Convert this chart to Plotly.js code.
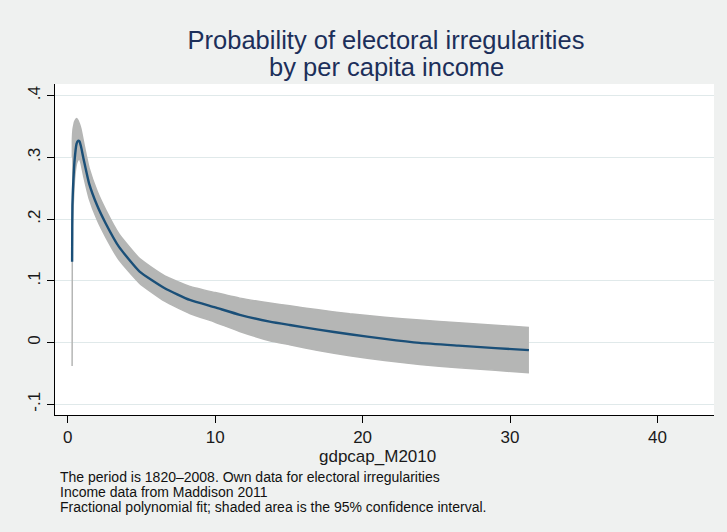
<!DOCTYPE html>
<html>
<head>
<meta charset="utf-8">
<script src="https://cdn.plot.ly/plotly-3.0.1.min.js"></script>
<style>
  html, body { margin: 0; padding: 0; background: #eff1f0; }
  #chart { width: 727px; height: 532px; }
</style>
</head>
<body>
<div id="chart"></div>
<script>
// GDP per capita (thousands, Maddison 2010 dollars)
const gdpcap = [0.30, 0.31, 0.32, 0.36, 0.41, 0.47, 0.60, 0.70, 0.80, 0.90, 1.10, 1.45, 2.00, 2.58, 3.48,
                4.88, 6.58, 8.28, 10.0, 11.67, 13.7, 15.06, 17.0, 19.13, 21.5, 23.88, 26.5, 29.0, 31.28];
// Fractional polynomial fit: predicted probability of irregularities
const fitted = [0.131, 0.180, 0.222, 0.250, 0.274, 0.296, 0.322, 0.327, 0.326, 0.318, 0.295, 0.258, 0.222, 0.193, 0.155,
                0.115, 0.088, 0.069, 0.057, 0.045, 0.034, 0.0285, 0.021, 0.0135, 0.006, -0.0005, -0.005, -0.009, -0.0123];
// 95% confidence interval bounds
const ciLower = [-0.038, 0.060, 0.190, 0.215, 0.240, 0.266, 0.290, 0.296, 0.297, 0.291, 0.268, 0.234, 0.199, 0.171, 0.134,
                 0.096, 0.067, 0.047, 0.033, 0.018, 0.003, -0.0035, -0.013, -0.0215, -0.029, -0.0356, -0.041, -0.045, -0.049];
const ciUpper = [0.300, 0.300, 0.330, 0.345, 0.352, 0.358, 0.363, 0.360, 0.354, 0.346, 0.322, 0.283, 0.245, 0.215, 0.176,
                 0.136, 0.108, 0.091, 0.081, 0.072, 0.064, 0.0595, 0.053, 0.0465, 0.041, 0.0364, 0.032, 0.028, 0.0245];

const yTickVals = [-0.1, 0, 0.1, 0.2, 0.3, 0.4];
const yTickText = ['-.1', '0', '.1', '.2', '.3', '.4'];
const xTickVals = [0, 10, 20, 30, 40];

const titleLine1 = 'Probability of electoral irregularities';
const titleLine2 = 'by per capita income';
const xTitle = 'gdpcap_M2010';
const notes = [
  'The period is 1820\u20132008. Own data for electoral irregularities',
  'Income data from Maddison 2011',
  'Fractional polynomial fit; shaded area is the 95% confidence interval.'
];

const ciGray = '#b5b6b5';
const fitColor = '#1a4f78';
const textFont = 'Liberation Sans, Arial, Helvetica, sans-serif';
const curve = { shape: 'spline', smoothing: 0.45 };

const traces = [
  { x: gdpcap, y: ciUpper, type: 'scatter', mode: 'lines',
    line: Object.assign({ color: ciGray, width: 1.5 }, curve), hoverinfo: 'skip', showlegend: false },
  { x: gdpcap, y: ciLower, type: 'scatter', mode: 'lines', fill: 'tonexty',
    fillcolor: ciGray, line: Object.assign({ color: ciGray, width: 1.5 }, curve), hoverinfo: 'skip', showlegend: false },
  { x: gdpcap, y: fitted, type: 'scatter', mode: 'lines',
    line: Object.assign({ color: fitColor, width: 2.4 }, curve), showlegend: false }
];

// plot area in pixels: x 55..714, y 84..415
const plotL = 55, plotW = 659, plotTop = 84, plotBottom = 415, plotH = plotBottom - plotTop;
const px = v => (v - plotL) / plotW;
const py = v => (plotBottom - v) / plotH;

const noteY = [476.7, 491.7, 506.7];
const annotations = notes.map((t, i) => ({
  text: t, xref: 'paper', yref: 'paper', x: px(58), y: py(noteY[i]),
  xanchor: 'left', yanchor: 'middle', showarrow: false,
  font: { family: textFont, size: 14, color: '#111111' }
}));
annotations.push({
  text: titleLine2, xref: 'paper', yref: 'paper', x: px(386), y: py(67),
  xanchor: 'center', yanchor: 'middle', showarrow: false,
  font: { family: textFont, size: 25.5, color: '#1c2f5a' }
});
annotations.push({
  text: xTitle, xref: 'paper', yref: 'paper', x: px(377), y: py(456),
  xanchor: 'center', yanchor: 'middle', showarrow: false,
  font: { family: textFont, size: 17, color: '#1a1a1a' }
});

const layout = {
  width: 727, height: 532,
  margin: { l: 55, r: 13, t: 84, b: 117 },
  paper_bgcolor: '#eff1f0',
  plot_bgcolor: '#ffffff',
  showlegend: false,
  title: {
    text: titleLine1, xref: 'container', yref: 'container',
    x: 386 / 727, y: 1 - 40 / 532, xanchor: 'center', yanchor: 'middle',
    font: { family: textFont, size: 25.5, color: '#1c2f5a' }
  },
  xaxis: {
    range: [-0.86, 43.83], tickmode: 'array', tickvals: xTickVals,
    showgrid: false, zeroline: false,
    showline: true, linecolor: '#000000', linewidth: 1,
    ticks: 'outside', ticklen: 7, tickwidth: 1, tickcolor: '#000000',
    tickfont: { family: textFont, size: 17, color: '#1a1a1a' }
  },
  yaxis: {
    range: [-0.1174, 0.419], tickmode: 'array', tickvals: yTickVals, ticktext: yTickText,
    showgrid: true, gridcolor: '#e0e9ea', gridwidth: 1.2, zeroline: false,
    showline: true, linecolor: '#000000', linewidth: 1,
    ticks: 'outside', ticklen: 7, tickwidth: 1, tickcolor: '#000000', tickangle: -90,
    tickfont: { family: textFont, size: 17, color: '#1a1a1a' }
  },
  annotations: annotations
};

Plotly.newPlot('chart', traces, layout, { displayModeBar: false, staticPlot: true });
</script>
</body>
</html>
